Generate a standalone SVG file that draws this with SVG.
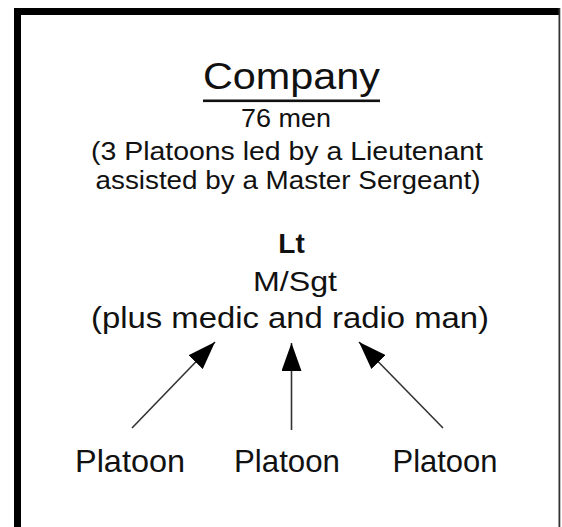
<svg xmlns="http://www.w3.org/2000/svg" width="562" height="527" viewBox="0 0 562 527">
<style>
text{font-family:"Liberation Sans",Arial,sans-serif;fill:#111;text-anchor:middle}
.conn line{stroke:#333;stroke-width:1.6}
</style>
<defs>
<marker id="ah" viewBox="0 0 28 20" refX="28" refY="10" markerWidth="28" markerHeight="20" markerUnits="userSpaceOnUse" orient="auto">
<path d="M0,0 L28,10 L0,20 Z" fill="#000"/>
</marker>
</defs>
<rect width="562" height="527" fill="#fff"/>
<g id="frame">
<rect x="14" y="8" width="7" height="519" fill="#000"/>
<rect x="14" y="8" width="546" height="7" fill="#000"/>
<rect x="558.5" y="8" width="1.8" height="519" fill="#333"/>
</g>
<g id="company">
<text x="291.5" y="89" font-size="37" textLength="177" lengthAdjust="spacingAndGlyphs">Company</text>
<rect x="203" y="99.5" width="177" height="2.6" fill="#111"/>
<text x="286" y="127" font-size="25" textLength="90" lengthAdjust="spacingAndGlyphs">76 men</text>
<text x="287" y="160" font-size="25" textLength="392" lengthAdjust="spacingAndGlyphs">(3 Platoons led by a Lieutenant</text>
<text x="288" y="189" font-size="25" textLength="385" lengthAdjust="spacingAndGlyphs">assisted by a Master Sergeant)</text>
</g>
<g id="lt">
<text x="291.5" y="253" font-size="28" font-weight="bold">Lt</text>
<text x="295" y="291" font-size="28" textLength="84" lengthAdjust="spacingAndGlyphs">M/Sgt</text>
<text x="290" y="328" font-size="30" textLength="398" lengthAdjust="spacingAndGlyphs">(plus medic and radio man)</text>
</g>
<g id="platoon1"><text x="130" y="472" font-size="32" textLength="110" lengthAdjust="spacingAndGlyphs">Platoon</text></g>
<g id="platoon2"><text x="287" y="472" font-size="32" textLength="106" lengthAdjust="spacingAndGlyphs">Platoon</text></g>
<g id="platoon3"><text x="445" y="472" font-size="32" textLength="105" lengthAdjust="spacingAndGlyphs">Platoon</text></g>
<g class="conn" id="connectors">
<line x1="132" y1="428" x2="215" y2="342" marker-end="url(#ah)"/>
<line x1="291.5" y1="430" x2="291.5" y2="343" marker-end="url(#ah)"/>
<line x1="443" y1="428" x2="359" y2="342" marker-end="url(#ah)"/>
</g>
</svg>
